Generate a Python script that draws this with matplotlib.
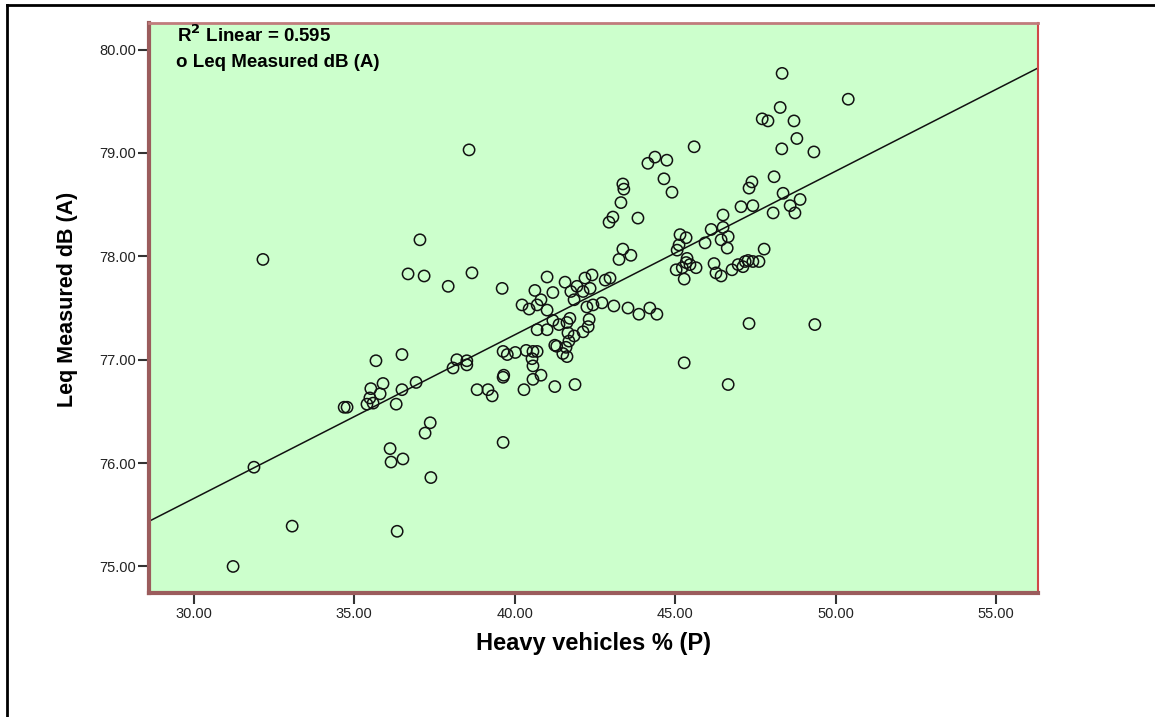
import numpy as np
import matplotlib
matplotlib.use("Agg")
import matplotlib.pyplot as plt
from matplotlib.lines import Line2D

# Heavy vehicles % (P) vs Leq measured dB(A)
heavy_pct = [
    31.23, 31.88, 32.16, 33.07, 34.69, 34.78, 35.40, 35.59, 36.31, 37.37,
    37.21, 36.12, 36.15, 36.52, 37.39, 36.34, 37.05, 36.68, 37.18, 36.49,
    35.68, 35.52, 35.90, 36.49, 36.93, 35.49, 35.81, 38.67, 37.93, 39.61,
    41.01, 41.57, 40.63, 41.19, 42.19, 42.41, 41.94, 41.75, 42.13, 42.35,
    42.82, 42.97, 40.23, 40.45, 40.82, 40.70, 41.01, 41.85, 42.25, 42.44,
    42.72, 43.09, 41.19, 41.38, 41.72, 41.63, 42.32, 42.29, 40.70, 41.01,
    41.66, 41.85, 42.13, 41.69, 41.25, 41.31, 41.60, 41.50, 41.63, 39.64,
    39.77, 40.02, 40.36, 40.57, 40.70, 40.54, 40.57, 39.64, 39.66, 40.57,
    40.82, 38.83, 39.17, 39.30, 40.29, 41.25, 41.88, 38.20, 38.51, 38.08,
    38.51, 39.64, 38.58, 45.59, 44.37, 44.15, 44.74, 44.65, 44.90, 43.37,
    43.40, 43.31, 43.06, 42.94, 43.84, 48.79, 48.32, 49.32, 47.39, 47.30,
    48.08, 48.36, 48.89, 48.58, 48.73, 48.05, 47.05, 47.42, 46.49, 46.12,
    46.49, 45.93, 46.43, 46.65, 46.62, 47.77, 45.15, 45.34, 45.12, 45.06,
    43.37, 43.62, 43.25, 45.37, 45.34, 45.46, 45.65, 45.03, 45.22, 45.28,
    46.21, 46.27, 46.43, 46.77, 46.96, 47.18, 47.27, 47.42, 47.61, 47.11,
    47.30, 49.35, 45.28, 46.65, 43.53, 43.87, 44.21, 44.43, 48.33, 50.39,
    48.27, 47.71, 47.89, 48.70,
]
leq_db = [
    75.00, 75.96, 77.97, 75.39, 76.54, 76.54, 76.57, 76.58, 76.57, 76.39,
    76.29, 76.14, 76.01, 76.04, 75.86, 75.34, 78.16, 77.83, 77.81, 77.05,
    76.99, 76.72, 76.77, 76.71, 76.78, 76.63, 76.67, 77.84, 77.71, 77.69,
    77.80, 77.75, 77.67, 77.65, 77.79, 77.82, 77.71, 77.66, 77.66, 77.69,
    77.77, 77.79, 77.53, 77.49, 77.58, 77.53, 77.48, 77.58, 77.51, 77.53,
    77.55, 77.52, 77.38, 77.34, 77.40, 77.36, 77.39, 77.32, 77.29, 77.29,
    77.26, 77.23, 77.27, 77.18, 77.14, 77.13, 77.12, 77.06, 77.03, 77.08,
    77.05, 77.07, 77.09, 77.08, 77.08, 77.01, 76.94, 76.83, 76.85, 76.81,
    76.85, 76.71, 76.71, 76.65, 76.71, 76.74, 76.76, 77.00, 76.99, 76.92,
    76.95, 76.20, 79.03, 79.06, 78.96, 78.90, 78.93, 78.75, 78.62, 78.70,
    78.65, 78.52, 78.38, 78.33, 78.37, 79.14, 79.04, 79.01, 78.72, 78.66,
    78.77, 78.61, 78.55, 78.49, 78.42, 78.42, 78.48, 78.49, 78.40, 78.26,
    78.28, 78.13, 78.16, 78.19, 78.08, 78.07, 78.21, 78.18, 78.11, 78.06,
    78.07, 78.01, 77.97, 77.98, 77.94, 77.92, 77.89, 77.87, 77.89, 77.78,
    77.93, 77.84, 77.81, 77.87, 77.92, 77.95, 77.96, 77.95, 77.95, 77.90,
    77.35, 77.34, 76.97, 76.76, 77.50, 77.44, 77.50, 77.44, 79.77, 79.52,
    79.44, 79.33, 79.31, 79.31,
]

x_ticks = [30, 35, 40, 45, 50, 55]
y_ticks = [75, 76, 77, 78, 79, 80]

x = np.array(heavy_pct)
y = np.array(leq_db)

plt.rcParams["font.family"] = ["Liberation Sans", "DejaVu Sans"]

fig = plt.figure(figsize=(11.55, 7.17), dpi=100)
ax = fig.add_axes([0.1287, 0.1725, 0.7700, 0.7958])
ax.set_facecolor("#ccffcc")

ax.scatter(x, y, s=66, facecolors="none", edgecolors="#111111", linewidths=1.1, zorder=3)

# linear fit line across the whole plot
xmin, xmax = 28.6, 56.3
slope, intercept = np.polyfit(x, y, 1)
xs = np.array([xmin, xmax])
ax.plot(xs, slope * xs + intercept, color="#111111", lw=1.1, zorder=2)

ax.set_xlim(xmin, xmax)
ax.set_ylim(74.74, 80.26)
ax.set_xticks(x_ticks)
ax.set_xticklabels([f"{v:.2f}" for v in x_ticks])
ax.set_yticks(y_ticks)
ax.set_yticklabels([f"{v:.2f}" for v in y_ticks])
ax.tick_params(axis="both", direction="out", length=8, width=1.5, color="#333333",
               labelsize=10.5, labelcolor="#222222")
ax.tick_params(axis="x", pad=2)
ax.tick_params(axis="y", pad=1)

ax.spines["left"].set_color("#9b5c5c")
ax.spines["left"].set_linewidth(3)
ax.spines["bottom"].set_color("#9b5c5c")
ax.spines["bottom"].set_linewidth(3)
ax.spines["top"].set_color("#c07c7c")
ax.spines["top"].set_linewidth(2)
ax.spines["right"].set_color("#d04848")
ax.spines["right"].set_linewidth(1.5)

ax.set_xlabel("Heavy vehicles % (P)", fontsize=17, fontweight="bold", labelpad=8)
ax.set_ylabel("Leq Measured dB (A)", fontsize=15.5, fontweight="bold")
ax.yaxis.set_label_coords(-0.08, 0.516)

ax.text(0.032, 0.9657, "R$^{\\mathbf{2}}$ Linear = 0.595", transform=ax.transAxes,
        fontsize=13.5, fontweight="bold", va="baseline", ha="left")
ax.text(0.031, 0.9229, "o Leq Measured dB (A)", transform=ax.transAxes,
        fontsize=13.5, fontweight="bold", va="baseline", ha="left")

# outer black frame (top and left edges visible)
fig.add_artist(Line2D([7 / 1155, 1.0], [1 - 5 / 717, 1 - 5 / 717], color="black", lw=2,
                      transform=fig.transFigure))
fig.add_artist(Line2D([7 / 1155, 7 / 1155], [0.0, 1 - 5 / 717], color="black", lw=2,
                      transform=fig.transFigure))

fig.savefig("out.png", dpi=100)
